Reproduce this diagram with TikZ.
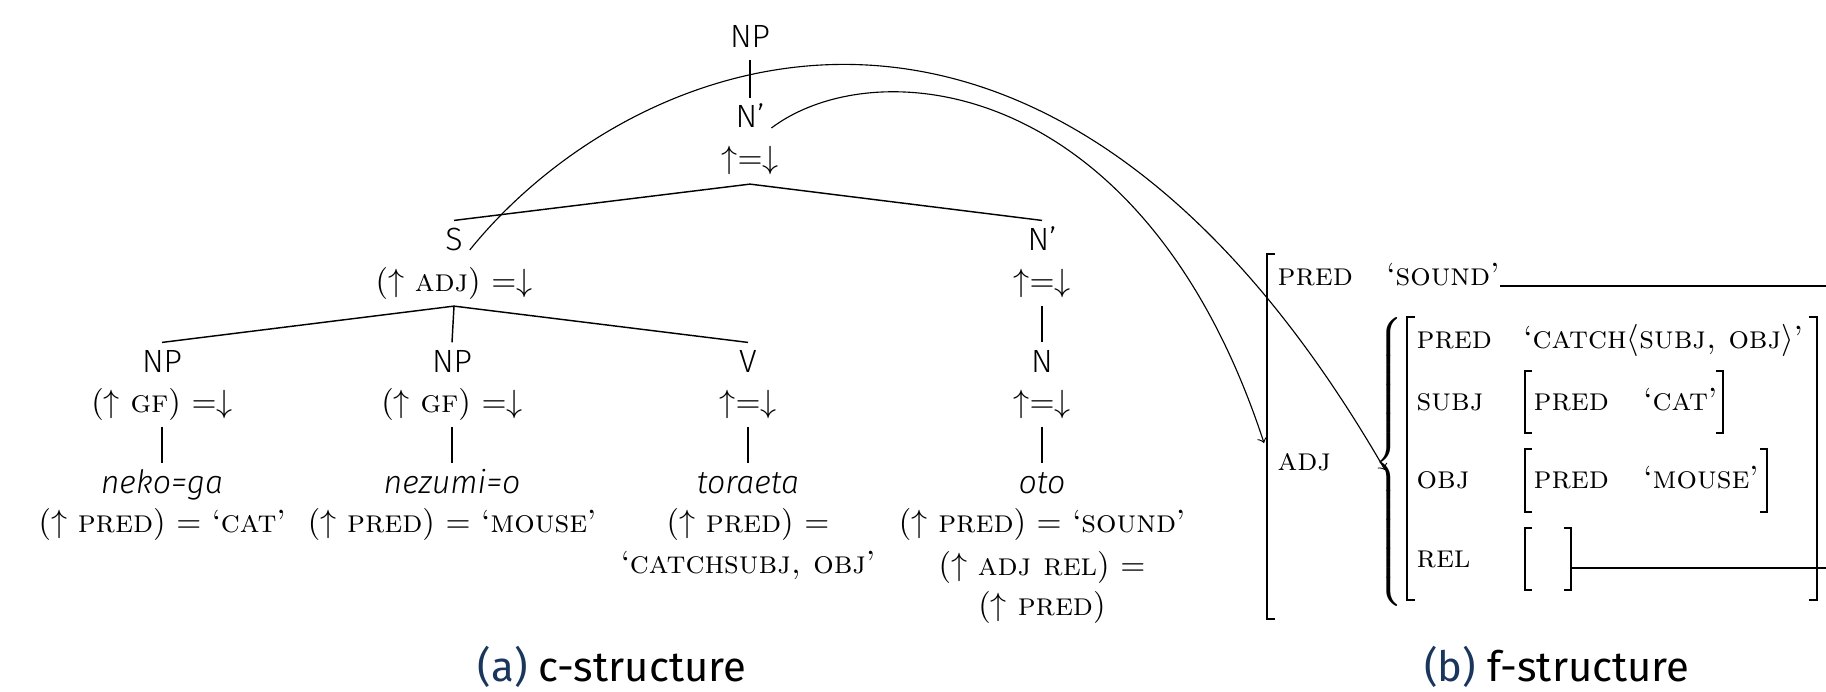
\documentclass[tikz,border=0pt]{standalone}
\usepackage{fontspec}
\setsansfont{Fira Sans}[UprightFont=* Light, ItalicFont=* Light Italic]
\newfontfamily\capfont{Fira Sans}
\definecolor{capblue}{HTML}{1B365D}
\newcommand{\lfgUD}{${\uparrow}{=}{\downarrow}$}
\newcommand{\lfgAnn}[1]{$(\uparrow$\ \textsc{#1}$)$\ ${=}{\downarrow}$}
\newcommand{\lfgPred}[1]{$(\uparrow$\ \textsc{pred}$)$ $=$ ‘\textsc{#1}’}
\newcommand{\bigbrace}[1]{$\left#1\vrule height 49.1pt depth 44.1pt width 0pt\right.$}
\newcommand{\bigbraceR}[1]{$\left.\vrule height 49.1pt depth 44.1pt width 0pt\right#1$}
\begin{document}
\begin{tikzpicture}[x=0.311pt,y=-0.311pt,
  cat/.style={font=\sffamily\fontsize{10}{12}\selectfont, anchor=base, inner sep=2pt, text height=7pt, text depth=1.5pt},
  ann/.style={font=\fontsize{10}{12}\selectfont, anchor=base, inner sep=2pt, text depth=2.5pt},
  word/.style={font=\sffamily\itshape\fontsize{10}{12}\selectfont, anchor=base, inner sep=2pt, text height=7pt, text depth=2pt},
  eqn/.style={font=\fontsize{10}{12}\selectfont, anchor=base, inner sep=0pt},
  fs/.style={font=\fontsize{10}{12}\selectfont, anchor=base west, inner sep=0pt},
  branch/.style={line width=0.45pt},
  brk/.style={line width=0.45pt},
  corr/.style={line width=0.35pt, ->},
  capstyle/.style={font=\capfont\fontsize{13}{15}\selectfont, anchor=base, inner sep=0pt}]
\useasboundingbox (0,0) rectangle (1826,692);
\clip (0,0) rectangle (1826,692);

% ---------- c-structure ----------
\node[cat] (npTop) at (750,48) {NP};
\node[cat] (nbar) at (750,128) {N’};
\node[ann] (nbarAnn) at (750,169) {\lfgUD};
\node[cat] (s) at (454,250) {S};
\node[ann] (sAnn) at (454,291) {\lfgAnn{adj}};
\node[cat] (nbarB) at (1042,250) {N’};
\node[ann] (nbarBAnn) at (1042,291) {\lfgUD};
\node[cat] (np1) at (162,372) {NP};
\node[ann] (np1Ann) at (162,412) {\lfgAnn{gf}};
\node[cat] (np2) at (452,372) {NP};
\node[ann] (np2Ann) at (452,412) {\lfgAnn{gf}};
\node[cat] (v) at (748,372) {V};
\node[ann] (vAnn) at (748,412) {\lfgUD};
\node[cat] (n) at (1042,372) {N};
\node[ann] (nAnn) at (1042,412) {\lfgUD};
\node[word] (w1) at (162,493) {neko=ga};
\node[word] (w2) at (452,493) {nezumi=o};
\node[word] (w3) at (748,493) {toraeta};
\node[word] (w4) at (1042,493) {oto};
\node[eqn] (w1a) at (162,532) {\lfgPred{cat}};
\node[eqn] (w2a) at (452,532) {\lfgPred{mouse}};
\node[eqn] (w3a) at (748,532) {$(\uparrow$\ \textsc{pred}$)$ $=$};
\node[eqn] (w3b) at (748,573) {‘\textsc{catchsubj, obj}’};
\node[eqn] (w4a) at (1042,532) {\lfgPred{sound}};
\node[eqn] (w4b) at (1042,575) {$(\uparrow$\ \textsc{adj rel}$)$ $=$};
\node[eqn] (w4c) at (1042,615) {$(\uparrow$\ \textsc{pred}$)$};

\draw[branch] (npTop.south) -- (nbar.north);
\draw[branch] (nbarAnn.south) -- (s.north);
\draw[branch] (nbarAnn.south) -- (nbarB.north);
\draw[branch] (sAnn.south) -- (np1.north);
\draw[branch] (sAnn.south) -- (np2.north);
\draw[branch] (sAnn.south) -- (v.north);
\draw[branch] (nbarBAnn.south) -- (n.north);
\draw[branch] (np1Ann.south) -- (w1.north);
\draw[branch] (np2Ann.south) -- (w2.north);
\draw[branch] (vAnn.south) -- (w3.north);
\draw[branch] (nAnn.south) -- (w4.north);

% ---------- f-structure ----------
\draw[brk] (1275,254) -- (1267,254) -- (1267,619) -- (1275,619);
\node[fs] (fPred) at (1277,285) {\textsc{pred}};
\node[fs] (fSound) at (1386,285) {‘\textsc{sound}’};
\node[fs] (fAdj) at (1277,470) {\textsc{adj}};
\node[inner sep=0pt] (adjbrace) at (1391,462) {\bigbrace\{};
\node[inner sep=0pt, anchor=west] (rbrace) at (1822,462) {\bigbraceR\}};
\draw[brk] (1415,317) -- (1407,317) -- (1407,600) -- (1415,600);
\draw[brk] (1809,317) -- (1817,317) -- (1817,600) -- (1809,600);
\node[fs] (iPred) at (1416,348) {\textsc{pred}};
\node[fs] (iPredV) at (1523,348) {‘\textsc{catch}$\langle$\textsc{subj, obj}$\rangle$’};
\node[fs] (iSubj) at (1416,410) {\textsc{subj}};
\draw[brk] (1532,371) -- (1525,371) -- (1525,433) -- (1532,433);
\node[fs] (sPred) at (1533,410) {\textsc{pred}};
\node[fs] (sCat) at (1643,410) {‘\textsc{cat}’};
\draw[brk] (1716,371) -- (1723,371) -- (1723,433) -- (1716,433);
\node[fs] (iObj) at (1416,488) {\textsc{obj}};
\draw[brk] (1532,449) -- (1525,449) -- (1525,512) -- (1532,512);
\node[fs] (oPred) at (1533,488) {\textsc{pred}};
\node[fs] (oMouse) at (1643,488) {‘\textsc{mouse}’};
\draw[brk] (1760,449) -- (1767,449) -- (1767,512) -- (1760,512);
\node[fs] (iRel) at (1416,567) {\textsc{rel}};
\draw[brk] (1532,528) -- (1525,528) -- (1525,590) -- (1532,590);
\draw[brk] (1564,528) -- (1571,528) -- (1571,590) -- (1564,590);

\coordinate (soundStart) at (1500,286);
\coordinate (soundEnd) at (1850,286);
\coordinate (relStart) at (1572,568);
\coordinate (relEnd) at (1850,568);
\draw[brk] (soundStart) -- (soundEnd);
\draw[brk] (relStart) -- (relEnd);

% ---------- correspondences ----------
\coordinate (fOuter) at (1264,443);
\coordinate (fAdjSet) at (1385,470);
\draw[corr] (s.base east) .. controls (631,50) and (1046,-117) .. (fAdjSet);
\draw[corr] (nbar.base east) .. controls (875,50) and (1143,74) .. (fOuter);

% ---------- captions ----------
\node[capstyle] (capA) at (612,681) {{\color{capblue}(a)} c-structure};
\node[capstyle] (capB) at (1557,681) {{\color{capblue}(b)} f-structure};
\end{tikzpicture}
\end{document}
